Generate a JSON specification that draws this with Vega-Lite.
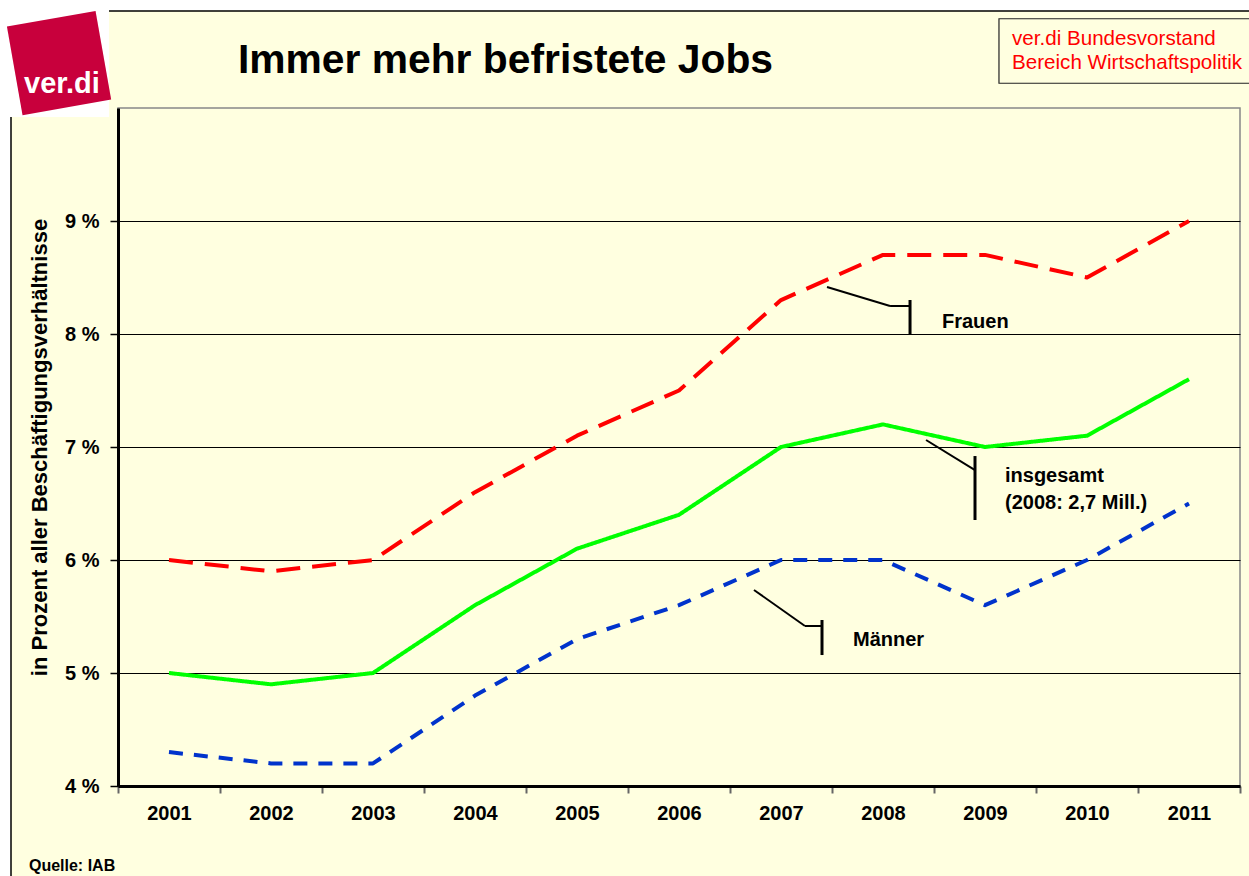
{
  "$schema": "https://vega.github.io/schema/vega-lite/v6.json",
  "autosize": {"type": "none"},
  "width": 1122,
  "height": 678,
  "padding": {"left": 118, "top": 108, "right": 9, "bottom": 90},
  "background": "#FFFFE0",
  "config": {
    "font": "Liberation Sans",
    "view": {"stroke": "#888888", "strokeWidth": 1.5, "fill": null}
  },
  "datasets": {
    "series": [
      {"year": 2001, "series": "Frauen", "value": 6.0},
      {"year": 2002, "series": "Frauen", "value": 5.9},
      {"year": 2003, "series": "Frauen", "value": 6.0},
      {"year": 2004, "series": "Frauen", "value": 6.6},
      {"year": 2005, "series": "Frauen", "value": 7.1},
      {"year": 2006, "series": "Frauen", "value": 7.5},
      {"year": 2007, "series": "Frauen", "value": 8.3},
      {"year": 2008, "series": "Frauen", "value": 8.7},
      {"year": 2009, "series": "Frauen", "value": 8.7},
      {"year": 2010, "series": "Frauen", "value": 8.5},
      {"year": 2011, "series": "Frauen", "value": 9.0},
      {"year": 2001, "series": "insgesamt", "value": 5.0},
      {"year": 2002, "series": "insgesamt", "value": 4.9},
      {"year": 2003, "series": "insgesamt", "value": 5.0},
      {"year": 2004, "series": "insgesamt", "value": 5.6},
      {"year": 2005, "series": "insgesamt", "value": 6.1},
      {"year": 2006, "series": "insgesamt", "value": 6.4},
      {"year": 2007, "series": "insgesamt", "value": 7.0},
      {"year": 2008, "series": "insgesamt", "value": 7.2},
      {"year": 2009, "series": "insgesamt", "value": 7.0},
      {"year": 2010, "series": "insgesamt", "value": 7.1},
      {"year": 2011, "series": "insgesamt", "value": 7.6},
      {"year": 2001, "series": "Männer", "value": 4.3},
      {"year": 2002, "series": "Männer", "value": 4.2},
      {"year": 2003, "series": "Männer", "value": 4.2},
      {"year": 2004, "series": "Männer", "value": 4.8},
      {"year": 2005, "series": "Männer", "value": 5.3},
      {"year": 2006, "series": "Männer", "value": 5.6},
      {"year": 2007, "series": "Männer", "value": 6.0},
      {"year": 2008, "series": "Männer", "value": 6.0},
      {"year": 2009, "series": "Männer", "value": 5.6},
      {"year": 2010, "series": "Männer", "value": 6.0},
      {"year": 2011, "series": "Männer", "value": 6.5}
    ]
  },
  "layer": [
    {
      "data": {"values": [
        {"x1": 1999.3, "x2": 2011.7, "y1": 10.86, "y2": 11.1},
        {"x1": 1999.3, "x2": 1999.451, "y1": 3.0, "y2": 11.1},
        {"x1": 1999.3, "x2": 2000.412, "y1": 9.92, "y2": 11.1}
      ]},
      "mark": {"type": "rect", "fill": "white", "clip": false},
      "encoding": {
        "x": {"field": "x1", "type": "quantitative"},
        "x2": {"field": "x2"},
        "y": {"field": "y1", "type": "quantitative"},
        "y2": {"field": "y2"}
      }
    },
    {
      "data": {"values": [
        {"x1": 2000.412, "x2": 2011.7, "y1": 10.858, "y2": 10.858},
        {"x1": 1999.451, "x2": 1999.451, "y1": 9.92, "y2": 3.0}
      ]},
      "mark": {"type": "rule", "color": "black", "strokeWidth": 1.5, "clip": false},
      "encoding": {
        "x": {"field": "x1", "type": "quantitative"},
        "x2": {"field": "x2"},
        "y": {"field": "y1", "type": "quantitative"},
        "y2": {"field": "y2"}
      }
    },
    {
      "data": {"values": [
        {"x1": 2009.137, "x2": 2011.75, "y1": 10.219, "y2": 10.79}
      ]},
      "mark": {"type": "rect", "fill": "#FFFFE0", "stroke": "#222222", "strokeWidth": 1.2, "clip": false},
      "encoding": {
        "x": {"field": "x1", "type": "quantitative"},
        "x2": {"field": "x2"},
        "y": {"field": "y1", "type": "quantitative"},
        "y2": {"field": "y2"}
      }
    },
    {
      "data": {"values": [{"x": 1999.922, "y": 10.398}]},
      "mark": {"type": "point", "shape": "square", "filled": true, "size": 8100, "angle": -10, "color": "#C8003C", "opacity": 1, "clip": false},
      "encoding": {
        "x": {"field": "x", "type": "quantitative"},
        "y": {"field": "y", "type": "quantitative"}
      }
    },
    {
      "data": {"values": [{"x": 1999.951, "y": 10.133, "text": "ver.di"}]},
      "mark": {"type": "text", "font": "Liberation Sans", "fontWeight": "bold", "fontSize": 29, "color": "white", "align": "center", "baseline": "alphabetic", "clip": false},
      "encoding": {
        "x": {"field": "x", "type": "quantitative"},
        "y": {"field": "y", "type": "quantitative"},
        "text": {"field": "text"}
      }
    },
    {
      "data": {"values": [{"x": 2001.676, "y": 10.31, "text": "Immer mehr befristete Jobs"}]},
      "mark": {"type": "text", "font": "Liberation Sans", "fontWeight": "bold", "fontSize": 40.8, "color": "black", "align": "left", "baseline": "alphabetic", "clip": false},
      "encoding": {
        "x": {"field": "x", "type": "quantitative"},
        "y": {"field": "y", "type": "quantitative"},
        "text": {"field": "text"}
      }
    },
    {
      "data": {"values": [
        {"x": 2009.265, "y": 10.613, "text": "ver.di Bundesvorstand"},
        {"x": 2009.265, "y": 10.398, "text": "Bereich Wirtschaftspolitik"}
      ]},
      "mark": {"type": "text", "font": "Liberation Sans", "fontSize": 20.6, "color": "#FF0000", "align": "left", "baseline": "middle", "clip": false},
      "encoding": {
        "x": {"field": "x", "type": "quantitative"},
        "y": {"field": "y", "type": "quantitative"},
        "text": {"field": "text"}
      }
    },
    {
      "data": {"values": [{"x": 1999.627, "y": 3.292, "text": "Quelle: IAB"}]},
      "mark": {"type": "text", "font": "Liberation Sans", "fontWeight": "bold", "fontSize": 16, "color": "black", "align": "left", "baseline": "middle", "clip": false},
      "encoding": {
        "x": {"field": "x", "type": "quantitative"},
        "y": {"field": "y", "type": "quantitative"},
        "text": {"field": "text"}
      }
    },
    {
      "data": {"name": "series"},
      "mark": {"type": "line", "strokeWidth": 4, "strokeCap": "butt", "strokeJoin": "round"},
      "encoding": {
        "x": {
          "field": "year", "type": "quantitative",
          "scale": {"domain": [2000.5, 2011.5], "nice": false, "zero": false},
          "axis": {
            "title": null,
            "values": [2000.5, 2001.5, 2002.5, 2003.5, 2004.5, 2005.5, 2006.5, 2007.5, 2008.5, 2009.5, 2010.5, 2011.5],
            "labelExpr": "datum.value < 2011 ? format(datum.value + 0.5, 'd') : ''",
            "labelOffset": 51,
            "labelFont": "Liberation Sans",
            "labelFontWeight": "bold",
            "labelFontSize": 20,
            "labelColor": "black",
            "labelPadding": 10,
            "labelOverlap": false,
            "labelBound": false,
            "labelFlush": false,
            "domainColor": "black",
            "domainWidth": 3,
            "tickColor": "#666666",
            "tickWidth": 2,
            "tickSize": 7,
            "grid": false
          }
        },
        "y": {
          "field": "value", "type": "quantitative",
          "scale": {"domain": [4, 10], "nice": false, "zero": false},
          "axis": {
            "title": "in Prozent aller Beschäftigungsverhältnisse",
            "titleFont": "Liberation Sans",
            "titleFontWeight": "bold",
            "titleFontSize": 22,
            "titleColor": "black",
            "titlePadding": 13,
            "values": [4, 5, 6, 7, 8, 9],
            "labelExpr": "datum.value + ' %'",
            "labelFont": "Liberation Sans",
            "labelFontWeight": "bold",
            "labelFontSize": 20,
            "labelColor": "black",
            "labelPadding": 11,
            "domainColor": "black",
            "domainWidth": 3,
            "tickColor": "black",
            "tickWidth": 1.5,
            "tickSize": 8,
            "grid": true,
            "gridColor": "black",
            "gridWidth": 1.2,
            "gridOpacity": 1
          }
        },
        "color": {
          "field": "series", "type": "nominal",
          "scale": {"domain": ["Frauen", "insgesamt", "Männer"], "range": ["#FF0000", "#00FF00", "#0033CC"]},
          "legend": null
        },
        "strokeDash": {
          "field": "series", "type": "nominal",
          "scale": {"domain": ["Frauen", "insgesamt", "Männer"], "range": [[24, 12], [1, 0], [14, 11]]},
          "legend": null
        }
      }
    },
    {
      "data": {"values": [
        {"x1": 2007.451, "y1": 8.416, "x2": 2008.069, "y2": 8.248, "kind": "lead"},
        {"x1": 2008.069, "y1": 8.248, "x2": 2008.265, "y2": 8.248, "kind": "lead"},
        {"x1": 2008.265, "y1": 8.301, "x2": 2008.265, "y2": 7.991, "kind": "bar"},
        {"x1": 2008.422, "y1": 7.062, "x2": 2008.902, "y2": 6.796, "kind": "lead"},
        {"x1": 2008.902, "y1": 6.92, "x2": 2008.902, "y2": 6.354, "kind": "bar"},
        {"x1": 2006.735, "y1": 5.735, "x2": 2007.235, "y2": 5.416, "kind": "lead"},
        {"x1": 2007.235, "y1": 5.416, "x2": 2007.402, "y2": 5.416, "kind": "lead"},
        {"x1": 2007.402, "y1": 5.469, "x2": 2007.402, "y2": 5.159, "kind": "bar"}
      ]},
      "mark": {"type": "rule", "color": "black"},
      "encoding": {
        "x": {"field": "x1", "type": "quantitative"},
        "x2": {"field": "x2"},
        "y": {"field": "y1", "type": "quantitative"},
        "y2": {"field": "y2"},
        "strokeWidth": {"field": "kind", "type": "nominal", "scale": {"domain": ["lead", "bar"], "range": [2, 3]}, "legend": null}
      }
    },
    {
      "data": {"values": [
        {"x": 2008.578, "y": 8.106, "text": "Frauen"},
        {"x": 2009.196, "y": 6.743, "text": "insgesamt"},
        {"x": 2009.196, "y": 6.504, "text": "(2008: 2,7 Mill.)"},
        {"x": 2007.706, "y": 5.292, "text": "Männer"}
      ]},
      "mark": {"type": "text", "font": "Liberation Sans", "fontWeight": "bold", "fontSize": 20, "color": "black", "align": "left", "baseline": "middle"},
      "encoding": {
        "x": {"field": "x", "type": "quantitative"},
        "y": {"field": "y", "type": "quantitative"},
        "text": {"field": "text"}
      }
    }
  ]
}
